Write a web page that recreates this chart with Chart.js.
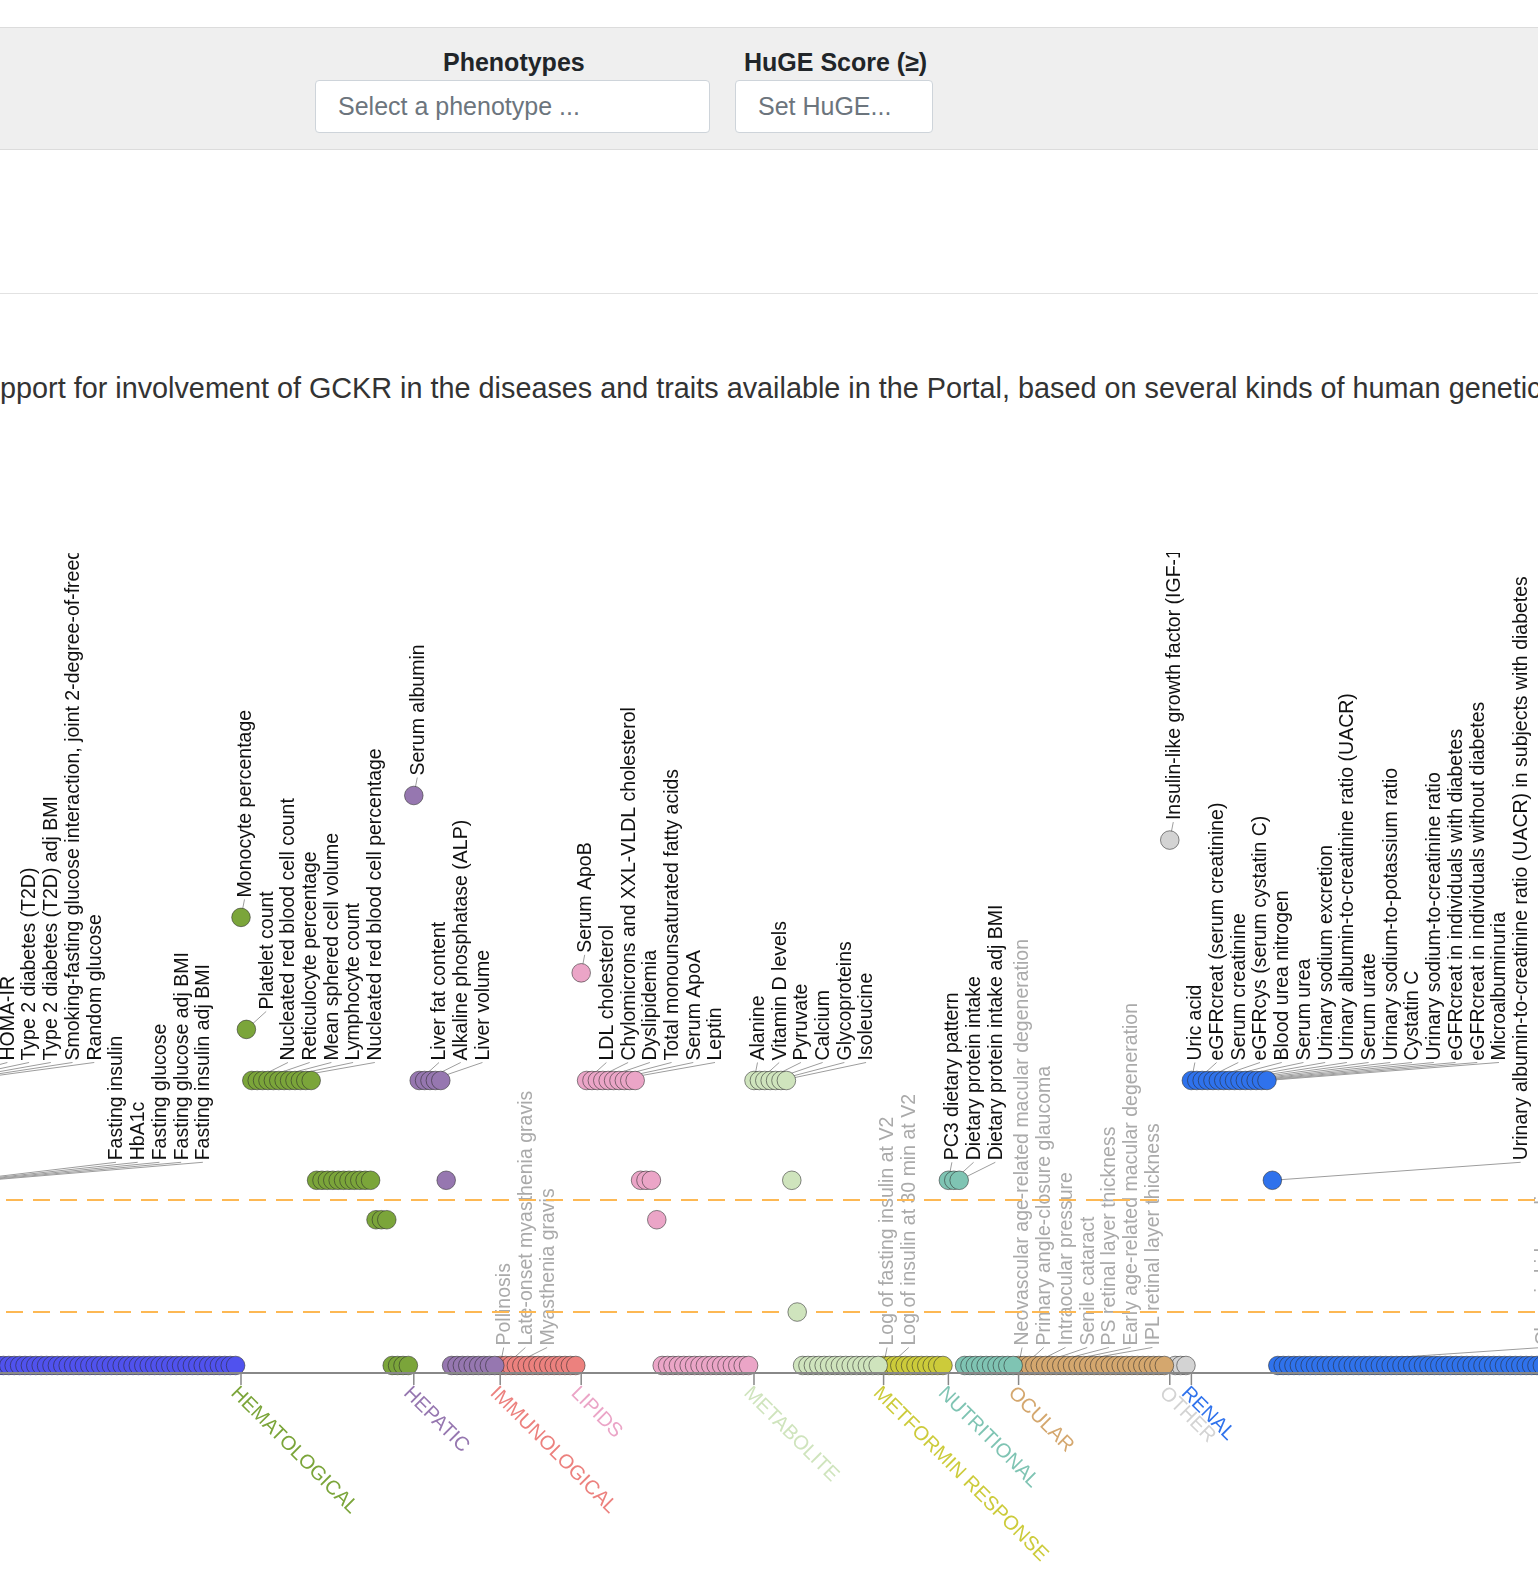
<!DOCTYPE html>
<html>
<head>
<meta charset="utf-8">
<title>HuGE Score PheWAS - GCKR</title>
<script src="https://cdn.jsdelivr.net/npm/chart.js@4.4.0/dist/chart.umd.min.js"></script>
<style>
  html, body { margin: 0; padding: 0; width: 1538px; height: 1574px; overflow: hidden; background: #fff;
    font-family: "Liberation Sans", Arial, Helvetica, sans-serif; }
  .filters { position: absolute; left: 0; top: 27px; width: 1538px; height: 121px; background: #efefef;
    border-top: 1px solid #dcdcdc; border-bottom: 1px solid #dcdcdc; }
  .flabel { position: absolute; top: 19px; font-weight: bold; font-size: 25px; color: #212529; line-height: 30px; }
  .fbox { position: absolute; top: 52px; height: 53px; box-sizing: border-box; background: #fff;
    border: 1px solid #ced4da; border-radius: 4px; font-size: 25px; color: #6c757d; line-height: 51px; padding-left: 22px; }
  .rule { position: absolute; left: 0; top: 293px; width: 1538px; height: 1px; background: #e2e2e2; }
  #title { position: absolute; top: 371px; white-space: nowrap; font-size: 28.8px; line-height: 34px; color: #333; }
  #wrap { position: absolute; left: 0; top: 553px; width: 1538px; height: 1026px; }
</style>
</head>
<body>
<div class="filters">
  <div class="flabel" style="left:443px">Phenotypes</div>
  <div class="fbox" style="left:315px;width:395px">Select a phenotype ...</div>
  <div class="flabel" style="left:744px">HuGE Score (≥)</div>
  <div class="fbox" style="left:735px;width:198px">Set HuGE...</div>
</div>
<div class="rule"></div>
<div id="title"><span id="pre">HuGE Scores summarize the strength of genetic su</span>pport for involvement of GCKR in the diseases and traits available in the Portal, based on several kinds of human genetic evidence.</div>
<div id="wrap"><canvas id="phewas" width="1538" height="1026"></canvas></div>

<script>
// categories
var groupNames = ['GLYCEMIC', 'HEMATOLOGICAL', 'HEPATIC', 'IMMUNOLOGICAL', 'LIPIDS', 'METABOLITE',
  'METFORMIN RESPONSE', 'NUTRITIONAL', 'OCULAR', 'OTHER', 'RENAL'];
var groupColors = ['#5052ee', '#7ba53a', '#9677b0', '#ec817e', '#eba5c7', '#cfe4bd',
  '#cccb3a', '#7fc4b3', '#d4a76e', '#d3d3d3', '#2f72ec'];

// HuGE scores per group, sorted high to low
var glycemicScores = [350, 350, 350, 350, 350, 350, 350, 350, 350, 45, 45, 45, 45, 45,
  1, 1, 1, 1, 1, 1, 1, 1, 1, 1, 1, 1, 1, 1, 1, 1, 1, 1, 1, 1, 1, 1, 1, 1, 1, 1, 1, 1, 1, 1, 1, 1,
  1, 1, 1, 1, 1, 1, 1, 1, 1, 1, 1, 1, 1, 1];
var hematologicalScores = [10000, 1000, 350, 350, 350, 350, 350, 350, 350, 350, 350, 350, 350, 350,
  45, 45, 45, 45, 45, 45, 45, 45, 45, 45, 45, 20, 20, 20, 1, 1, 1, 1];
var hepaticScores = [122500, 350, 350, 350, 350, 350, 45, 1, 1, 1, 1, 1, 1, 1, 1, 1];
var immunologicalScores = [1, 1, 1, 1, 1, 1, 1, 1, 1, 1, 1, 1, 1, 1, 1];
var lipidsScores = [3200, 350, 350, 350, 350, 350, 350, 350, 350, 350, 350, 45, 45, 45, 20,
  1, 1, 1, 1, 1, 1, 1, 1, 1, 1, 1, 1, 1, 1, 1, 1, 1];
var metaboliteScores = [350, 350, 350, 350, 350, 350, 350, 45, 3,
  1, 1, 1, 1, 1, 1, 1, 1, 1, 1, 1, 1, 1, 1, 1];
var metforminScores = [1, 1, 1, 1, 1, 1, 1, 1, 1, 1, 1, 1];
var nutritionalScores = [45, 45, 45, 1, 1, 1, 1, 1, 1, 1, 1, 1, 1];
var ocularScores = [1, 1, 1, 1, 1, 1, 1, 1, 1, 1, 1, 1, 1, 1, 1, 1, 1, 1, 1, 1, 1, 1, 1, 1, 1, 1, 1, 1];
var otherScores = [49000, 1, 1, 1];
var renalScores = [350, 350, 350, 350, 350, 350, 350, 350, 350, 350, 350, 350, 350, 350, 350, 45,
  1, 1, 1, 1, 1, 1, 1, 1, 1, 1, 1, 1, 1, 1, 1, 1, 1, 1, 1, 1, 1, 1, 1, 1, 1, 1, 1, 1, 1, 1,
  1, 1, 1, 1, 1, 1, 1, 1, 1, 1, 1, 1, 1, 1, 1, 1, 1, 1, 1, 1, 1, 1];

// names of the top phenotypes of each group (in score order)
var glycemicLabels = ['', '', '', '', 'HOMA-IR', 'Type 2 diabetes (T2D)', 'Type 2 diabetes (T2D) adj BMI',
  'Smoking-fasting glucose interaction, joint 2-degree-of-freedom test', 'Random glucose',
  'Fasting insulin', 'HbA1c', 'Fasting glucose', 'Fasting glucose adj BMI', 'Fasting insulin adj BMI'];
var hematologicalLabels = ['Monocyte percentage', 'Platelet count', 'Nucleated red blood cell count',
  'Reticulocyte percentage', 'Mean sphered cell volume', 'Lymphocyte count', 'Nucleated red blood cell percentage'];
var hepaticLabels = ['Serum albumin', 'Liver fat content', 'Alkaline phosphatase (ALP)', 'Liver volume'];
var immunologicalLabels = ['Pollinosis', 'Late-onset myasthenia gravis', 'Myasthenia gravis'];
var lipidsLabels = ['Serum ApoB', 'LDL cholesterol', 'Chylomicrons and XXL-VLDL cholesterol', 'Dyslipidemia',
  'Total monounsaturated fatty acids', 'Serum ApoA', 'Leptin'];
var metaboliteLabels = ['Alanine', 'Vitamin D levels', 'Pyruvate', 'Calcium', 'Glycoproteins', 'Isoleucine'];
var metforminLabels = ['Log of fasting insulin at V2', 'Log of insulin at 30 min at V2'];
var nutritionalLabels = ['PC3 dietary pattern', 'Dietary protein intake', 'Dietary protein intake adj BMI'];
var ocularLabels = ['Neovascular age-related macular degeneration', 'Primary angle-closure glaucoma',
  'Intraocular pressure', 'Senile cataract', 'PS retinal layer thickness',
  'Early age-related macular degeneration', 'IPL retinal layer thickness'];
var otherLabels = ['Insulin-like growth factor (IGF-1) levels'];
var renalLabels = ['Uric acid', 'eGFRcreat (serum creatinine)', 'Serum creatinine', 'eGFRcys (serum cystatin C)',
  'Blood urea nitrogen', 'Serum urea', 'Urinary sodium excretion', 'Urinary albumin-to-creatinine ratio (UACR)',
  'Serum urate', 'Urinary sodium-to-potassium ratio', 'Cystatin C', 'Urinary sodium-to-creatinine ratio',
  'eGFRcreat in individuals with diabetes', 'eGFRcreat in individuals without diabetes', 'Microalbuminuria',
  'Urinary albumin-to-creatinine ratio (UACR) in subjects with diabetes', 'Chronic kidney disease'];

// HuGE evidence thresholds (moderate, strong)
var thresholds = [3, 30];

var groupScores = [glycemicScores, hematologicalScores, hepaticScores, immunologicalScores, lipidsScores,
  metaboliteScores, metforminScores, nutritionalScores, ocularScores, otherScores, renalScores];
var groupLabels = [glycemicLabels, hematologicalLabels, hepaticLabels, immunologicalLabels, lipidsLabels,
  metaboliteLabels, metforminLabels, nutritionalLabels, ocularLabels, otherLabels, renalLabels];

// first index of every group on the x axis
var groupStarts = [];
var n = 0;
groupScores.forEach(function(s) { groupStarts.push(n); n += s.length; });

// title is a cropped sentence: slide it so the visible part starts at the left edge
var pre = document.getElementById('pre');
document.getElementById('title').style.left = (-pre.getBoundingClientRect().width) + 'px';

var labelFont = '19.5px "Liberation Sans", Arial, sans-serif';

var phewasDecor = {
  id: 'phewasDecor',
  beforeDatasetsDraw: function(chart) {
    var ctx = chart.ctx, x = chart.scales.x, y = chart.scales.y, area = chart.chartArea;
    ctx.save();
    // leader lines and phenotype names
    groupScores.forEach(function(scores, g) {
      var x0 = x.getPixelForValue(groupStarts[g]);
      groupLabels[g].forEach(function(name, k) {
        if (!name) return;
        var px = x.getPixelForValue(groupStarts[g] + k);
        var py = y.getPixelForValue(scores[k]);
        var lx = x0 + 4.5 + k * 21.72;
        ctx.strokeStyle = '#9d9d9d';
        ctx.lineWidth = 1;
        ctx.setLineDash([]);
        ctx.beginPath();
        ctx.moveTo(px, py);
        ctx.lineTo(lx - 1, py - 18);
        ctx.stroke();
        ctx.save();
        ctx.translate(lx, py - 20);
        ctx.rotate(-Math.PI / 2);
        ctx.font = labelFont;
        ctx.fillStyle = scores[k] < thresholds[0] ? '#aaaaaa' : '#111111';
        ctx.textAlign = 'left';
        ctx.textBaseline = 'middle';
        ctx.fillText(name, 0, 0);
        ctx.restore();
      });
    });
    // threshold lines
    thresholds.forEach(function(t) {
      var ty = y.getPixelForValue(t);
      ctx.strokeStyle = '#fdb853';
      ctx.lineWidth = 2;
      ctx.setLineDash([17, 10]);
      ctx.lineDashOffset = 21;
      ctx.beginPath();
      ctx.moveTo(area.left, ty);
      ctx.lineTo(area.right, ty);
      ctx.stroke();
    });
    ctx.restore();
  },
  afterDatasetsDraw: function(chart) {
    var ctx = chart.ctx, x = chart.scales.x, area = chart.chartArea;
    ctx.save();
    ctx.strokeStyle = '#888888';
    ctx.lineWidth = 2;
    ctx.beginPath();
    ctx.moveTo(area.left, area.bottom);
    ctx.lineTo(area.right, area.bottom);
    ctx.stroke();
    groupNames.forEach(function(name, g) {
      var tx = x.getPixelForValue(groupStarts[g]);
      ctx.strokeStyle = '#888888';
      ctx.lineWidth = 1.5;
      ctx.beginPath();
      ctx.moveTo(tx, area.bottom);
      ctx.lineTo(tx, area.bottom + 12);
      ctx.stroke();
      ctx.save();
      ctx.translate(tx, area.bottom + 10);
      ctx.rotate(Math.PI / 4);
      ctx.font = '20px "Liberation Sans", Arial, sans-serif';
      ctx.fillStyle = groupColors[g];
      ctx.textAlign = 'left';
      ctx.textBaseline = 'top';
      ctx.fillText(name, 0, 0);
      ctx.restore();
    });
    ctx.restore();
  }
};

var datasets = groupScores.map(function(scores, g) {
  return {
    label: groupNames[g],
    data: scores.map(function(v, i) { return { x: groupStarts[g] + i, y: v }; }),
    backgroundColor: groupColors[g],
    borderColor: 'rgba(40,40,40,0.55)',
    borderWidth: 1,
    pointRadius: 9.3,
    pointHoverRadius: 9.3,
    clip: false
  };
});

var ctx = document.getElementById('phewas').getContext('2d');
var myChart = new Chart(ctx, {
  type: 'scatter',
  data: { datasets: datasets },
  options: {
    responsive: false,
    animation: false,
    events: [],
    layout: { autoPadding: false, padding: { top: 0, left: 0, right: 0, bottom: 206 } },
    plugins: {
      legend: { display: false },
      tooltip: { enabled: false }
    },
    scales: {
      x: { type: 'linear', min: 15.37, max: 300.19, display: false },
      y: { type: 'logarithmic', min: 0.857, max: 1.79e7, display: false }
    }
  },
  plugins: [phewasDecor]
});
</script>
</body>
</html>
